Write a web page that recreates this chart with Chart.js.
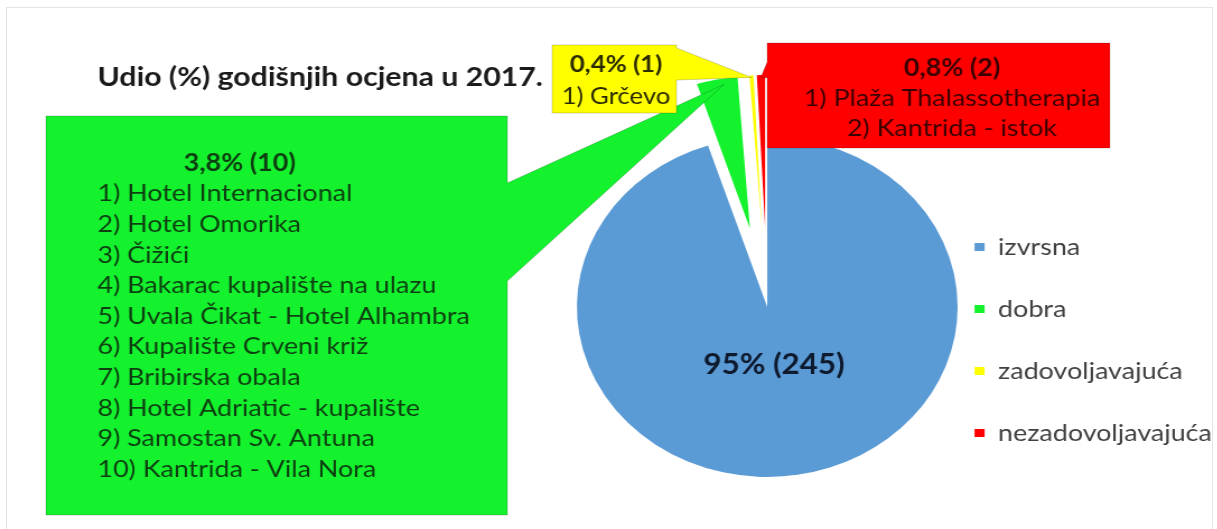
<!DOCTYPE html>
<html>
<head>
<meta charset="utf-8">
<title>Udio godišnjih ocjena 2017.</title>
<script src="https://cdn.jsdelivr.net/npm/chart.js@4.4.1/dist/chart.umd.min.js"></script>
<style>
    html, body { margin: 0; padding: 0; background: #fff; overflow: hidden; }
    #okvir { position: absolute; left: 6px; top: 7px; width: 1205px; height: 540px; border: 1px solid #e4e4e4; }
    /* slika je u izvorniku razvučena vodoravno, pa i platno razvlačimo */
    #platno { position: absolute; left: 0; top: 0; width: 1087px; height: 529px; transform: scaleX(1.12); transform-origin: 0 0; }
</style>
</head>
<body>
<div id="okvir"></div>
<div id="platno"><canvas id="grafikon" width="1087" height="529"></canvas></div>
<script>
// podaci
const naslov = 'Udio (%) godišnjih ocjena u 2017.';
const kategorije = ['izvrsna', 'dobra', 'zadovoljavajuća', 'nezadovoljavajuća'];
const brojOcjena = [245, 10, 1, 2];
const postoci = ['95%', '3,8%', '0,4%', '0,8%'];
const dobraLokacije = [
    'Hotel Internacional',
    'Hotel Omorika',
    'Čižići',
    'Bakarac kupalište na ulazu',
    'Uvala Čikat - Hotel Alhambra',
    'Kupalište Crveni križ',
    'Bribirska obala',
    'Hotel Adriatic - kupalište',
    'Samostan Sv. Antuna',
    'Kantrida - Vila Nora'
];
const zadovoljavajucaLokacije = ['Grčevo'];
const nezadovoljavajucaLokacije = ['Plaža Thalassotherapia', 'Kantrida - istok'];

const boje = ['#5b9bd5', '#14f22e', '#ffff00', '#ff0000'];
const FONT = 'Lato, "Open Sans", sans-serif';

function naslovOblacica(i) {
    return `${postoci[i]} (${brojOcjena[i]})`;
}
function popis(lokacije) {
    return lokacije.map((l, k) => `${k + 1}) ${l}`);
}

// izvučeni (eksplodirani) isječci: pomak od središta i manji polumjer
const izdvajanje = {
    id: 'izdvajanje',
    afterDatasetsUpdate(chart, args, opts) {
        const meta = chart.getDatasetMeta(0);
        meta.data.forEach((luk, i) => {
            if (!opts.indeksi.includes(i)) return;
            const sredina = (luk.startAngle + luk.endAngle) / 2;
            luk.x += Math.cos(sredina) * opts.pomak;
            luk.y += Math.sin(sredina) * opts.pomak;
            luk.outerRadius = opts.radijus;
        });
    }
};

// točka na rubu luka (za vrh pokazivača oblačića)
function tockaLuka(luk, udio, uvuci) {
    const kut = luk.startAngle + (luk.endAngle - luk.startAngle) * udio;
    const r = luk.outerRadius - uvuci;
    return { x: luk.x + Math.cos(kut) * r, y: luk.y + Math.sin(kut) * r };
}

function nacrtajOblacic(ctx, o, vrh) {
    const { x, y, w, h } = o;
    ctx.save();
    ctx.beginPath();
    if (o.strana === 'desno') {
        ctx.moveTo(x, y);
        ctx.lineTo(x + w, y);
        ctx.lineTo(x + w, o.p1);
        ctx.lineTo(vrh.x, vrh.y);
        ctx.lineTo(x + w, o.p2);
        ctx.lineTo(x + w, y + h);
        ctx.lineTo(x, y + h);
    } else {
        ctx.moveTo(x, y);
        ctx.lineTo(x + w, y);
        ctx.lineTo(x + w, y + h);
        ctx.lineTo(x, y + h);
        ctx.lineTo(x, o.p2);
        ctx.lineTo(vrh.x, vrh.y);
        ctx.lineTo(x, o.p1);
    }
    ctx.closePath();
    ctx.fillStyle = o.boja;
    ctx.fill();
    ctx.strokeStyle = 'rgba(0,0,0,0.18)';
    ctx.lineWidth = 1;
    ctx.stroke();

    ctx.fillStyle = o.bojaTeksta;
    ctx.textBaseline = 'middle';
    o.redovi.forEach((red, k) => {
        const podebljano = k === 0;
        ctx.font = `${podebljano ? 'bold ' : ''}${o.velicina}px ${FONT}`;
        if (o.poravnanje === 'lijevo' && !podebljano) {
            ctx.textAlign = 'left';
            ctx.fillText(red, o.tekstX, o.tekstY + k * o.razmak);
        } else {
            ctx.textAlign = 'center';
            ctx.fillText(red, o.sredinaX, o.tekstY + k * o.razmak);
        }
    });
    ctx.restore();
}

const oblacici = {
    id: 'oblacici',
    afterDraw(chart) {
        const ctx = chart.ctx;
        const meta = chart.getDatasetMeta(0);
        const [plavi, zeleni, zuti, crveni] = meta.data;

        // naslov
        ctx.save();
        ctx.font = `bold 27px ${FONT}`;
        ctx.fillStyle = '#1a1a1a';
        ctx.textBaseline = 'middle';
        ctx.fillText(naslov, 87, 77);
        ctx.restore();

        // oznaka velikog isječka
        ctx.save();
        ctx.font = `bold 28px ${FONT}`;
        ctx.fillStyle = '#0e1a2e';
        ctx.textAlign = 'center';
        ctx.textBaseline = 'middle';
        ctx.fillText(naslovOblacica(0), plavi.x + 6, plavi.y + 58);
        ctx.restore();

        nacrtajOblacic(ctx, {
            x: 41, y: 116, w: 412, h: 399, strana: 'desno', p1: 183, p2: 281,
            boja: boje[1], bojaTeksta: '#0d3d10', velicina: 24,
            redovi: [naslovOblacica(1), ...popis(dobraLokacije)],
            poravnanje: 'lijevo', tekstX: 87, sredinaX: 214, tekstY: 163, razmak: 30.6
        }, tockaLuka(zeleni, 0.65, 6));

        nacrtajOblacic(ctx, {
            x: 493, y: 45, w: 111, h: 68, strana: 'desno', p1: 48, p2: 80,
            boja: boje[2], bojaTeksta: '#2b2b00', velicina: 23,
            redovi: [naslovOblacica(2), ...popis(zadovoljavajucaLokacije)],
            poravnanje: 'sredina', sredinaX: 550, tekstY: 65, razmak: 32
        }, tockaLuka(zuti, 0.5, 2));

        nacrtajOblacic(ctx, {
            x: 685, y: 43, w: 306, h: 105, strana: 'lijevo', p1: 62, p2: 78,
            boja: boje[3], bojaTeksta: '#3b0000', velicina: 24,
            redovi: [naslovOblacica(3), ...popis(nezadovoljavajucaLokacije)],
            poravnanje: 'sredina', sredinaX: 850, tekstY: 68, razmak: 30
        }, tockaLuka(crveni, 0.5, 2));
    }
};

function nacrtaj() {
    new Chart(document.getElementById('grafikon'), {
        type: 'pie',
        data: {
            labels: kategorije,
            datasets: [{
                data: brojOcjena,
                backgroundColor: boje,
                borderWidth: 0
            }]
        },
        options: {
            responsive: false,
            animation: false,
            events: [],
            radius: 170,
            layout: { padding: { left: 538, top: 131, bottom: 46, right: -5 } },
            plugins: {
                tooltip: { enabled: false },
                izdvajanje: { indeksi: [1, 2, 3], pomak: 80, radijus: 152 },
                legend: {
                    position: 'right',
                    align: 'end',
                    labels: {
                        boxWidth: 9,
                        boxHeight: 8,
                        padding: 38,
                        color: '#404040',
                        font: { family: FONT, size: 24 }
                    }
                }
            }
        },
        plugins: [izdvajanje, oblacici]
    });
}

Promise.all([
    document.fonts.load('24px Lato'),
    document.fonts.load('bold 24px Lato')
]).then(nacrtaj, nacrtaj);
</script>
</body>
</html>
